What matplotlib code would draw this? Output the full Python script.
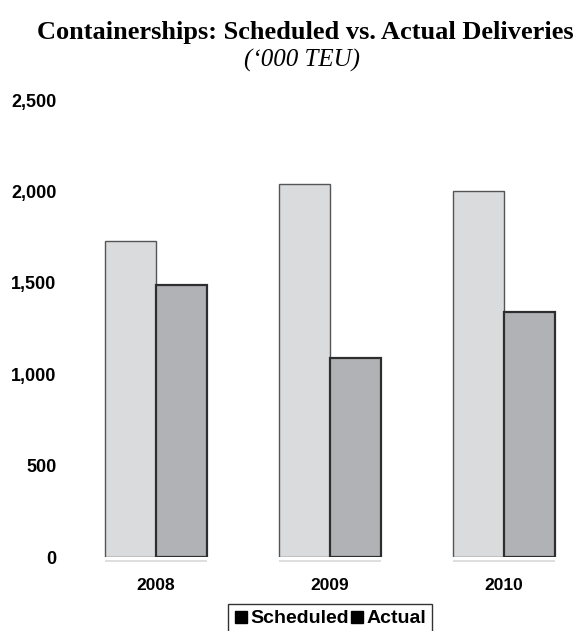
import numpy as np
import matplotlib.pyplot as plt
from matplotlib.lines import Line2D

years = ["2008", "2009", "2010"]
scheduled = [1730, 2040, 2000]
actual = [1490, 1090, 1340]
y_ticks = [0, 500, 1000, 1500, 2000, 2500]
y_tick_labels = ["0", "500", "1,000", "1,500", "2,000", "2,500"]

W, H = 575, 631
fig = plt.figure(figsize=(W / 100, H / 100), dpi=100)

# axes placed in pixel terms: 174 px between group centres, first centre at x=156
left_px, right_px = 62, 575
bottom_px, top_px = 557, 100
ax = fig.add_axes([left_px / W, (H - bottom_px) / H,
                   (right_px - left_px) / W, (bottom_px - top_px) / H])
unit = 174.0
ax.set_xlim((left_px - 156) / unit, (right_px - 156) / unit)
ax.set_ylim(0, 2500)

x = np.arange(len(years))
bw = 51 / unit
ax.bar(x - bw / 2, scheduled, bw, color="#dadbdd", edgecolor="#555555", linewidth=1.0, zorder=2)
ax.bar(x + bw / 2, actual, bw, color="#b1b2b5", edgecolor="#2e2e2e", linewidth=1.6, zorder=3)
ax.hlines([-20] * len(x), x - bw, x + bw, colors="#d8d8d8", linewidth=1.2, clip_on=False)

for s in ax.spines.values():
    s.set_visible(False)
ax.set_yticks(y_ticks)
ax.set_yticklabels(y_tick_labels, fontfamily="Liberation Sans", fontweight="bold", fontsize=13)
ax.set_xticks(x)
ax.set_xticklabels(years, fontfamily="Liberation Sans", fontweight="bold", fontsize=12.5)
ax.tick_params(axis="y", length=0, pad=4)
ax.tick_params(axis="x", length=0, pad=15)

fig.text(305 / W, 1 - 33 / H, "Containerships: Scheduled vs. Actual Deliveries",
         ha="center", va="center", fontfamily="Liberation Serif", fontweight="bold", fontsize=19)
fig.text(302 / W, 1 - 60 / H, "(\u2018000 TEU)",
         ha="center", va="center", fontfamily="Liberation Serif", fontstyle="italic", fontsize=18)

handles = [Line2D([], [], marker="s", color="black", linestyle="none", markersize=8),
           Line2D([], [], marker="s", color="black", linestyle="none", markersize=8)]
leg = fig.legend(handles, ["Scheduled", "Actual"], loc="upper center",
                 bbox_to_anchor=(330 / W, 1 - 604 / H), ncol=2, frameon=True,
                 fancybox=False, edgecolor="black", handlelength=0.7, handletextpad=0.15,
                 columnspacing=0.05, borderpad=0.3, borderaxespad=0,
                 prop={"family": "Liberation Sans", "weight": "bold", "size": 14})
leg.get_frame().set_linewidth(1.0)

fig.savefig("out.png", dpi=100)
